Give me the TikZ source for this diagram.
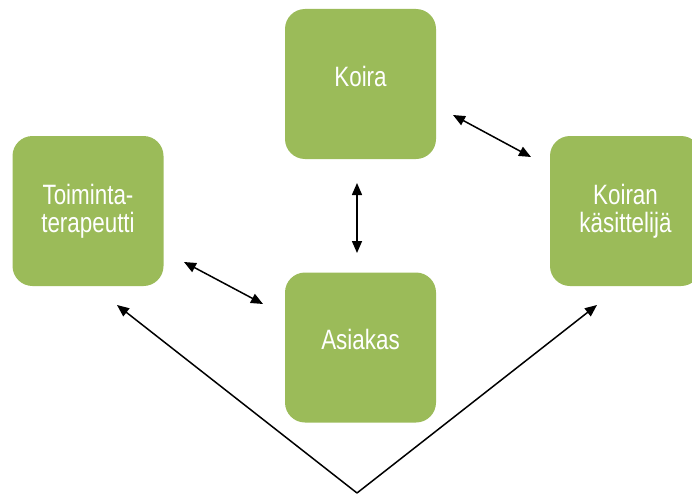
\documentclass[tikz,border=0pt]{standalone}
\usepackage{fontspec}
\setmainfont{Liberation Sans}[FakeStretch=0.8]
\usetikzlibrary{arrows.meta}
\definecolor{boxgreen}{RGB}{155,187,89}
\tikzset{
  box/.style={fill=boxgreen, rounded corners=20pt, minimum width=151pt, minimum height=150pt,
    inner sep=0pt, align=center, text=white, font=\fontsize{28}{28}\selectfont},
  oneline/.style={text depth=16pt},
  link/.style={line width=1.5pt, {Triangle[length=12pt,width=10pt]}-{Triangle[length=12pt,width=10pt]}},
  tolink/.style={line width=1.5pt, -{Triangle[length=12pt,width=10pt]}}
}
\begin{document}
\begin{tikzpicture}[x=1pt,y=-1pt]
  \useasboundingbox (0,0) rectangle (692,495);
  % boxes
  \node[box,oneline] (koira) at (360.5,84) {Koira};
  \node[box] (toim) at (88,211) {Toiminta-\\terapeutti};
  \node[box,oneline] (asiakas) at (360.5,347.5) {Asiakas};
  \node[box] (kasittelija) at (625.5,211) {Koiran\\käsittelijä};
  % arrow ends
  \coordinate (ka1) at (357,183);
  \coordinate (ka2) at (357,253);
  \coordinate (kk1) at (453,115);
  \coordinate (kk2) at (531,157);
  \coordinate (ta1) at (184,262);
  \coordinate (ta2) at (263,304);
  \coordinate (apex) at (357,493);
  \coordinate (totoim) at (117,305);
  \coordinate (tokas) at (597,305);
  % arrows
  \draw[link] (ka1) -- (ka2);
  \draw[link] (kk1) -- (kk2);
  \draw[link] (ta1) -- (ta2);
  \draw[tolink] (apex) -- (totoim);
  \draw[tolink] (apex) -- (tokas);
\end{tikzpicture}
\end{document}
